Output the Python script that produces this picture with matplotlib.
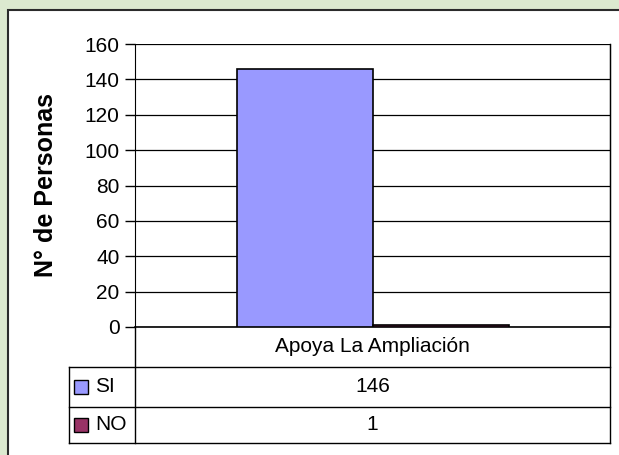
import matplotlib.pyplot as plt
from matplotlib.patches import Rectangle

plt.rcParams['font.family'] = ['Liberation Sans', 'DejaVu Sans']

# Datos
categoria = 'Apoya La Ampliación'
series = ['SI', 'NO']
valores = [146, 1]
colores = ['#9999FF', '#993366']
yticks = [0, 20, 40, 60, 80, 100, 120, 140, 160]

W, H = 619, 455
fig = plt.figure(figsize=(W / 100, H / 100), dpi=100)
fig.patch.set_facecolor('white')

# marco verde de fondo (arriba e izquierda)
fig.patches.append(Rectangle((0, 0), 1, 1, transform=fig.transFigure,
                             facecolor='#dce9cf', edgecolor='none', zorder=0))
fig.patches.append(Rectangle((8 / W, -0.1), 1.2, (H - 10) / H + 0.1,
                             transform=fig.transFigure, facecolor='white',
                             edgecolor='#2b2b2b', linewidth=1.5, zorder=1))

# area del grafico
x0, x1, y0, y1 = 135, 610, 44, 327
ax = fig.add_axes([x0 / W, (H - y1) / H, (x1 - x0) / W, (y1 - y0) / H])
ax.set_zorder(2)

ancho = 136 / 475
pos = [-ancho / 2, ancho / 2]
for p, v, c in zip(pos, valores, colores):
    ax.bar(p, v, width=ancho, color=c, edgecolor='black', linewidth=1.2, zorder=3)

ax.set_xlim(-0.5, 0.5)
ax.set_ylim(0, 160)
ax.set_yticks(yticks)
ax.tick_params(axis='y', labelsize=15, length=7, width=1, direction='out', pad=4)
ax.set_xticks([])
ax.grid(axis='y', color='black', linewidth=0.9)
ax.set_axisbelow(True)
ax.spines['top'].set_visible(False)
ax.spines['right'].set_color('black')
ax.spines['left'].set_color('black')
ax.spines['bottom'].set_linewidth(1.2)

fig.text(46 / W, 1 - 185 / H, 'N° de Personas', rotation=90, ha='center', va='center',
         fontsize=18, fontweight='bold')

# tabla de datos
def fy(ypix):
    return (y1 - ypix) / (y1 - y0)

def fx(xpix):
    return (xpix - x0) / (x1 - x0)

tr = ax.transAxes
filas = [fy(367), fy(407), fy(443)]
for yy in filas:
    ax.plot([fx(69), 1], [yy, yy], color='black', linewidth=1, transform=tr, clip_on=False)
ax.plot([fx(69), fx(69)], [filas[0], filas[2]], color='black', linewidth=1, transform=tr, clip_on=False)
ax.plot([0, 0], [0, filas[2]], color='black', linewidth=1, transform=tr, clip_on=False)
ax.plot([1, 1], [1, filas[2]], color='black', linewidth=1, transform=tr, clip_on=False)

ax.text(0.5, (0 + filas[0]) / 2, categoria, transform=tr, ha='center', va='center', fontsize=15)
centros = [(filas[0] + filas[1]) / 2, (filas[1] + filas[2]) / 2]
for yc, s, v, c in zip(centros, series, valores, colores):
    ax.text(0.5, yc, str(v), transform=tr, ha='center', va='center', fontsize=15)
    ax.add_patch(Rectangle((fx(74), yc - 7 / 283), 14 / 475, 14 / 283, transform=tr,
                           facecolor=c, edgecolor='black', linewidth=1, clip_on=False))
    ax.text(fx(95), yc, s, transform=tr, ha='left', va='center', fontsize=15)

fig.savefig('out.png', dpi=100, facecolor=fig.get_facecolor())
